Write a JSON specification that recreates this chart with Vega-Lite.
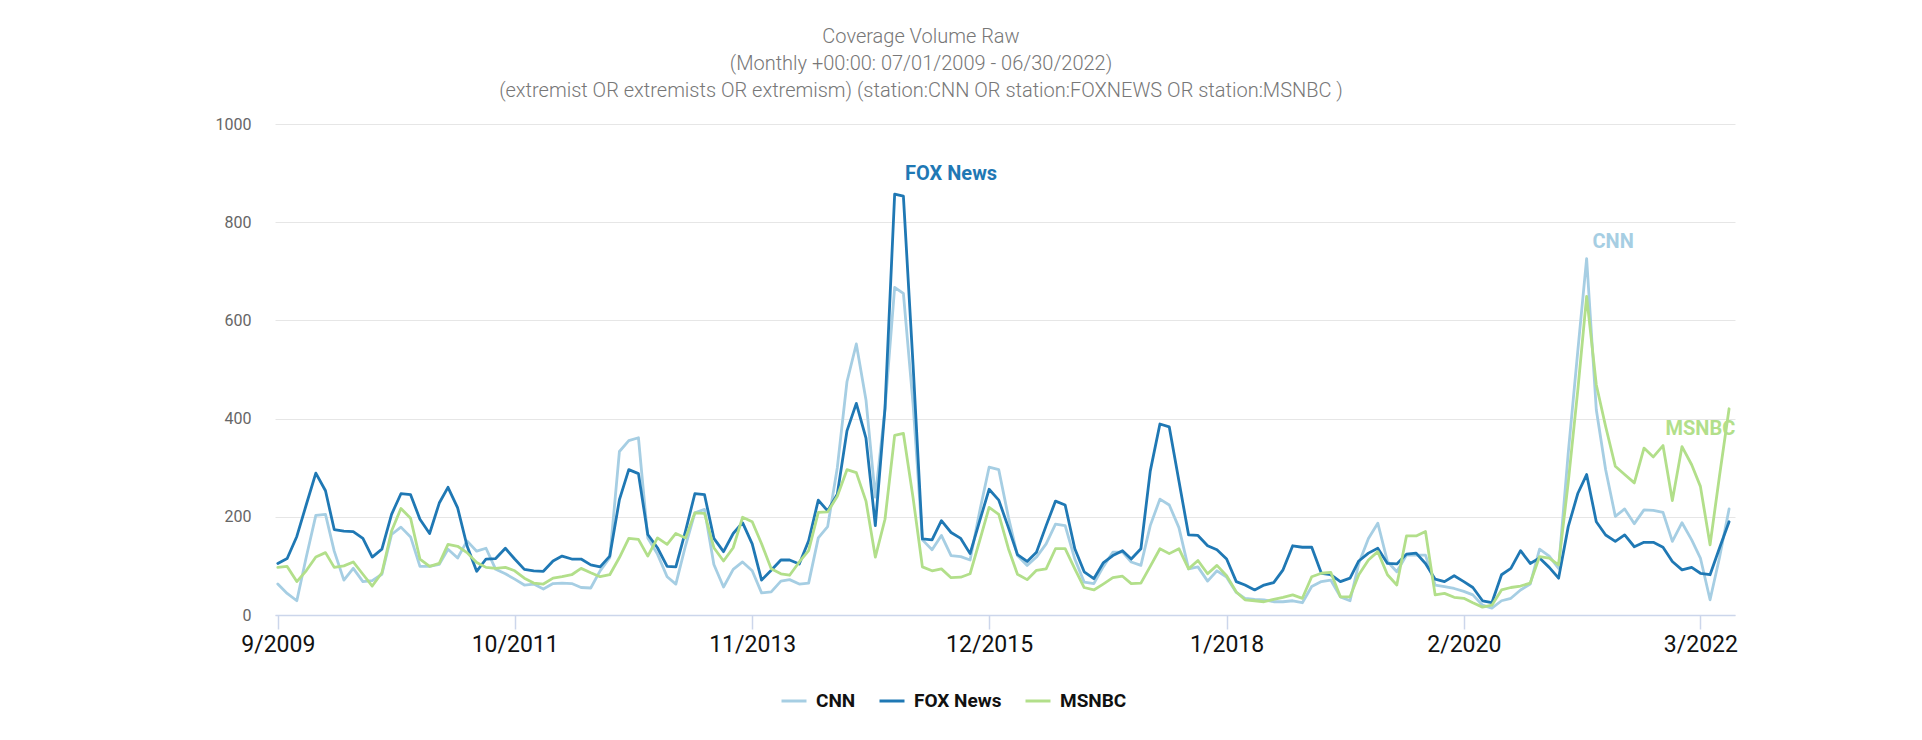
{
"$schema":"https://vega.github.io/schema/vega-lite/v6.json",
"width":1460,"height":491,
"autosize":{"type":"none"},
"padding":{"left":275,"top":124,"right":187,"bottom":125},
"background":"white",
"title":{"text":["Coverage Volume Raw","(Monthly +00:00: 07/01/2009 - 06/30/2022)","(extremist OR extremists OR extremism) (station:CNN OR station:FOXNEWS OR station:MSNBC )"],"anchor":"middle","frame":"group","dx":-84,"offset":15,"font":"Roboto","fontSize":20,"fontWeight":300,"color":"#777777","lineHeight":27},
"datasets":{
"series":[
{"date":"2009-09","network":"CNN","count":63},{"date":"2009-10","network":"CNN","count":44},{"date":"2009-11","network":"CNN","count":29},{"date":"2009-12","network":"CNN","count":117},
{"date":"2010-01","network":"CNN","count":203},{"date":"2010-02","network":"CNN","count":205},{"date":"2010-03","network":"CNN","count":130},{"date":"2010-04","network":"CNN","count":71},{"date":"2010-05","network":"CNN","count":95},{"date":"2010-06","network":"CNN","count":68},{"date":"2010-07","network":"CNN","count":70},{"date":"2010-08","network":"CNN","count":83},{"date":"2010-09","network":"CNN","count":164},{"date":"2010-10","network":"CNN","count":179},{"date":"2010-11","network":"CNN","count":159},{"date":"2010-12","network":"CNN","count":99},
{"date":"2011-01","network":"CNN","count":99},{"date":"2011-02","network":"CNN","count":103},{"date":"2011-03","network":"CNN","count":134},{"date":"2011-04","network":"CNN","count":116},{"date":"2011-05","network":"CNN","count":151},{"date":"2011-06","network":"CNN","count":130},{"date":"2011-07","network":"CNN","count":136},{"date":"2011-08","network":"CNN","count":93},{"date":"2011-09","network":"CNN","count":84},{"date":"2011-10","network":"CNN","count":73},{"date":"2011-11","network":"CNN","count":61},{"date":"2011-12","network":"CNN","count":63},
{"date":"2012-01","network":"CNN","count":53},{"date":"2012-02","network":"CNN","count":64},{"date":"2012-03","network":"CNN","count":65},{"date":"2012-04","network":"CNN","count":64},{"date":"2012-05","network":"CNN","count":56},{"date":"2012-06","network":"CNN","count":55},{"date":"2012-07","network":"CNN","count":90},{"date":"2012-08","network":"CNN","count":117},{"date":"2012-09","network":"CNN","count":333},{"date":"2012-10","network":"CNN","count":355},{"date":"2012-11","network":"CNN","count":361},{"date":"2012-12","network":"CNN","count":157},
{"date":"2013-01","network":"CNN","count":124},{"date":"2013-02","network":"CNN","count":78},{"date":"2013-03","network":"CNN","count":63},{"date":"2013-04","network":"CNN","count":141},{"date":"2013-05","network":"CNN","count":208},{"date":"2013-06","network":"CNN","count":215},{"date":"2013-07","network":"CNN","count":103},{"date":"2013-08","network":"CNN","count":57},{"date":"2013-09","network":"CNN","count":93},{"date":"2013-10","network":"CNN","count":108},{"date":"2013-11","network":"CNN","count":90},{"date":"2013-12","network":"CNN","count":45},
{"date":"2014-01","network":"CNN","count":47},{"date":"2014-02","network":"CNN","count":69},{"date":"2014-03","network":"CNN","count":72},{"date":"2014-04","network":"CNN","count":63},{"date":"2014-05","network":"CNN","count":65},{"date":"2014-06","network":"CNN","count":157},{"date":"2014-07","network":"CNN","count":180},{"date":"2014-08","network":"CNN","count":300},{"date":"2014-09","network":"CNN","count":475},{"date":"2014-10","network":"CNN","count":552},{"date":"2014-11","network":"CNN","count":438},{"date":"2014-12","network":"CNN","count":240},
{"date":"2015-01","network":"CNN","count":420},{"date":"2015-02","network":"CNN","count":667},{"date":"2015-03","network":"CNN","count":655},{"date":"2015-04","network":"CNN","count":430},{"date":"2015-05","network":"CNN","count":153},{"date":"2015-06","network":"CNN","count":133},{"date":"2015-07","network":"CNN","count":162},{"date":"2015-08","network":"CNN","count":121},{"date":"2015-09","network":"CNN","count":119},{"date":"2015-10","network":"CNN","count":112},{"date":"2015-11","network":"CNN","count":212},{"date":"2015-12","network":"CNN","count":301},
{"date":"2016-01","network":"CNN","count":296},{"date":"2016-02","network":"CNN","count":199},{"date":"2016-03","network":"CNN","count":121},{"date":"2016-04","network":"CNN","count":101},{"date":"2016-05","network":"CNN","count":118},{"date":"2016-06","network":"CNN","count":145},{"date":"2016-07","network":"CNN","count":185},{"date":"2016-08","network":"CNN","count":182},{"date":"2016-09","network":"CNN","count":114},{"date":"2016-10","network":"CNN","count":67},{"date":"2016-11","network":"CNN","count":64},{"date":"2016-12","network":"CNN","count":98},
{"date":"2017-01","network":"CNN","count":128},{"date":"2017-02","network":"CNN","count":128},{"date":"2017-03","network":"CNN","count":108},{"date":"2017-04","network":"CNN","count":101},{"date":"2017-05","network":"CNN","count":182},{"date":"2017-06","network":"CNN","count":236},{"date":"2017-07","network":"CNN","count":224},{"date":"2017-08","network":"CNN","count":178},{"date":"2017-09","network":"CNN","count":94},{"date":"2017-10","network":"CNN","count":98},{"date":"2017-11","network":"CNN","count":69},{"date":"2017-12","network":"CNN","count":90},
{"date":"2018-01","network":"CNN","count":77},{"date":"2018-02","network":"CNN","count":46},{"date":"2018-03","network":"CNN","count":34},{"date":"2018-04","network":"CNN","count":32},{"date":"2018-05","network":"CNN","count":31},{"date":"2018-06","network":"CNN","count":27},{"date":"2018-07","network":"CNN","count":27},{"date":"2018-08","network":"CNN","count":29},{"date":"2018-09","network":"CNN","count":25},{"date":"2018-10","network":"CNN","count":58},{"date":"2018-11","network":"CNN","count":68},{"date":"2018-12","network":"CNN","count":71},
{"date":"2019-01","network":"CNN","count":37},{"date":"2019-02","network":"CNN","count":29},{"date":"2019-03","network":"CNN","count":105},{"date":"2019-04","network":"CNN","count":156},{"date":"2019-05","network":"CNN","count":187},{"date":"2019-06","network":"CNN","count":109},{"date":"2019-07","network":"CNN","count":88},{"date":"2019-08","network":"CNN","count":122},{"date":"2019-09","network":"CNN","count":122},{"date":"2019-10","network":"CNN","count":122},{"date":"2019-11","network":"CNN","count":61},{"date":"2019-12","network":"CNN","count":58},
{"date":"2020-01","network":"CNN","count":54},{"date":"2020-02","network":"CNN","count":48},{"date":"2020-03","network":"CNN","count":41},{"date":"2020-04","network":"CNN","count":20},{"date":"2020-05","network":"CNN","count":14},{"date":"2020-06","network":"CNN","count":29},{"date":"2020-07","network":"CNN","count":34},{"date":"2020-08","network":"CNN","count":51},{"date":"2020-09","network":"CNN","count":63},{"date":"2020-10","network":"CNN","count":134},{"date":"2020-11","network":"CNN","count":120},{"date":"2020-12","network":"CNN","count":95},
{"date":"2021-01","network":"CNN","count":330},{"date":"2021-02","network":"CNN","count":540},{"date":"2021-03","network":"CNN","count":726},{"date":"2021-04","network":"CNN","count":418},{"date":"2021-05","network":"CNN","count":296},{"date":"2021-06","network":"CNN","count":201},{"date":"2021-07","network":"CNN","count":216},{"date":"2021-08","network":"CNN","count":186},{"date":"2021-09","network":"CNN","count":214},{"date":"2021-10","network":"CNN","count":213},{"date":"2021-11","network":"CNN","count":209},{"date":"2021-12","network":"CNN","count":150},
{"date":"2022-01","network":"CNN","count":188},{"date":"2022-02","network":"CNN","count":153},{"date":"2022-03","network":"CNN","count":116},{"date":"2022-04","network":"CNN","count":31},{"date":"2022-05","network":"CNN","count":116},{"date":"2022-06","network":"CNN","count":216},
{"date":"2009-09","network":"FOX News","count":105},{"date":"2009-10","network":"FOX News","count":115},{"date":"2009-11","network":"FOX News","count":160},{"date":"2009-12","network":"FOX News","count":224},
{"date":"2010-01","network":"FOX News","count":289},{"date":"2010-02","network":"FOX News","count":253},{"date":"2010-03","network":"FOX News","count":174},{"date":"2010-04","network":"FOX News","count":171},{"date":"2010-05","network":"FOX News","count":170},{"date":"2010-06","network":"FOX News","count":156},{"date":"2010-07","network":"FOX News","count":118},{"date":"2010-08","network":"FOX News","count":134},{"date":"2010-09","network":"FOX News","count":205},{"date":"2010-10","network":"FOX News","count":247},{"date":"2010-11","network":"FOX News","count":245},{"date":"2010-12","network":"FOX News","count":195},
{"date":"2011-01","network":"FOX News","count":166},{"date":"2011-02","network":"FOX News","count":228},{"date":"2011-03","network":"FOX News","count":260},{"date":"2011-04","network":"FOX News","count":218},{"date":"2011-05","network":"FOX News","count":141},{"date":"2011-06","network":"FOX News","count":89},{"date":"2011-07","network":"FOX News","count":114},{"date":"2011-08","network":"FOX News","count":115},{"date":"2011-09","network":"FOX News","count":136},{"date":"2011-10","network":"FOX News","count":114},{"date":"2011-11","network":"FOX News","count":93},{"date":"2011-12","network":"FOX News","count":90},
{"date":"2012-01","network":"FOX News","count":89},{"date":"2012-02","network":"FOX News","count":110},{"date":"2012-03","network":"FOX News","count":120},{"date":"2012-04","network":"FOX News","count":114},{"date":"2012-05","network":"FOX News","count":114},{"date":"2012-06","network":"FOX News","count":102},{"date":"2012-07","network":"FOX News","count":98},{"date":"2012-08","network":"FOX News","count":120},{"date":"2012-09","network":"FOX News","count":235},{"date":"2012-10","network":"FOX News","count":296},{"date":"2012-11","network":"FOX News","count":288},{"date":"2012-12","network":"FOX News","count":164},
{"date":"2013-01","network":"FOX News","count":137},{"date":"2013-02","network":"FOX News","count":99},{"date":"2013-03","network":"FOX News","count":98},{"date":"2013-04","network":"FOX News","count":171},{"date":"2013-05","network":"FOX News","count":247},{"date":"2013-06","network":"FOX News","count":245},{"date":"2013-07","network":"FOX News","count":156},{"date":"2013-08","network":"FOX News","count":129},{"date":"2013-09","network":"FOX News","count":166},{"date":"2013-10","network":"FOX News","count":188},{"date":"2013-11","network":"FOX News","count":145},{"date":"2013-12","network":"FOX News","count":71},
{"date":"2014-01","network":"FOX News","count":91},{"date":"2014-02","network":"FOX News","count":112},{"date":"2014-03","network":"FOX News","count":112},{"date":"2014-04","network":"FOX News","count":104},{"date":"2014-05","network":"FOX News","count":151},{"date":"2014-06","network":"FOX News","count":234},{"date":"2014-07","network":"FOX News","count":212},{"date":"2014-08","network":"FOX News","count":246},{"date":"2014-09","network":"FOX News","count":375},{"date":"2014-10","network":"FOX News","count":431},{"date":"2014-11","network":"FOX News","count":360},{"date":"2014-12","network":"FOX News","count":182},
{"date":"2015-01","network":"FOX News","count":421},{"date":"2015-02","network":"FOX News","count":857},{"date":"2015-03","network":"FOX News","count":853},{"date":"2015-04","network":"FOX News","count":510},{"date":"2015-05","network":"FOX News","count":155},{"date":"2015-06","network":"FOX News","count":153},{"date":"2015-07","network":"FOX News","count":192},{"date":"2015-08","network":"FOX News","count":168},{"date":"2015-09","network":"FOX News","count":156},{"date":"2015-10","network":"FOX News","count":125},{"date":"2015-11","network":"FOX News","count":192},{"date":"2015-12","network":"FOX News","count":256},
{"date":"2016-01","network":"FOX News","count":234},{"date":"2016-02","network":"FOX News","count":178},{"date":"2016-03","network":"FOX News","count":123},{"date":"2016-04","network":"FOX News","count":109},{"date":"2016-05","network":"FOX News","count":128},{"date":"2016-06","network":"FOX News","count":182},{"date":"2016-07","network":"FOX News","count":232},{"date":"2016-08","network":"FOX News","count":224},{"date":"2016-09","network":"FOX News","count":135},{"date":"2016-10","network":"FOX News","count":88},{"date":"2016-11","network":"FOX News","count":74},{"date":"2016-12","network":"FOX News","count":106},
{"date":"2017-01","network":"FOX News","count":121},{"date":"2017-02","network":"FOX News","count":131},{"date":"2017-03","network":"FOX News","count":114},{"date":"2017-04","network":"FOX News","count":135},{"date":"2017-05","network":"FOX News","count":293},{"date":"2017-06","network":"FOX News","count":389},{"date":"2017-07","network":"FOX News","count":383},{"date":"2017-08","network":"FOX News","count":273},{"date":"2017-09","network":"FOX News","count":163},{"date":"2017-10","network":"FOX News","count":162},{"date":"2017-11","network":"FOX News","count":141},{"date":"2017-12","network":"FOX News","count":133},
{"date":"2018-01","network":"FOX News","count":114},{"date":"2018-02","network":"FOX News","count":68},{"date":"2018-03","network":"FOX News","count":61},{"date":"2018-04","network":"FOX News","count":51},{"date":"2018-05","network":"FOX News","count":61},{"date":"2018-06","network":"FOX News","count":66},{"date":"2018-07","network":"FOX News","count":92},{"date":"2018-08","network":"FOX News","count":141},{"date":"2018-09","network":"FOX News","count":138},{"date":"2018-10","network":"FOX News","count":138},{"date":"2018-11","network":"FOX News","count":85},{"date":"2018-12","network":"FOX News","count":82},
{"date":"2019-01","network":"FOX News","count":68},{"date":"2019-02","network":"FOX News","count":75},{"date":"2019-03","network":"FOX News","count":110},{"date":"2019-04","network":"FOX News","count":126},{"date":"2019-05","network":"FOX News","count":136},{"date":"2019-06","network":"FOX News","count":105},{"date":"2019-07","network":"FOX News","count":104},{"date":"2019-08","network":"FOX News","count":124},{"date":"2019-09","network":"FOX News","count":126},{"date":"2019-10","network":"FOX News","count":105},{"date":"2019-11","network":"FOX News","count":73},{"date":"2019-12","network":"FOX News","count":68},
{"date":"2020-01","network":"FOX News","count":80},{"date":"2020-02","network":"FOX News","count":68},{"date":"2020-03","network":"FOX News","count":56},{"date":"2020-04","network":"FOX News","count":29},{"date":"2020-05","network":"FOX News","count":25},{"date":"2020-06","network":"FOX News","count":82},{"date":"2020-07","network":"FOX News","count":95},{"date":"2020-08","network":"FOX News","count":131},{"date":"2020-09","network":"FOX News","count":105},{"date":"2020-10","network":"FOX News","count":116},{"date":"2020-11","network":"FOX News","count":97},{"date":"2020-12","network":"FOX News","count":75},
{"date":"2021-01","network":"FOX News","count":180},{"date":"2021-02","network":"FOX News","count":248},{"date":"2021-03","network":"FOX News","count":286},{"date":"2021-04","network":"FOX News","count":190},{"date":"2021-05","network":"FOX News","count":163},{"date":"2021-06","network":"FOX News","count":150},{"date":"2021-07","network":"FOX News","count":163},{"date":"2021-08","network":"FOX News","count":139},{"date":"2021-09","network":"FOX News","count":148},{"date":"2021-10","network":"FOX News","count":148},{"date":"2021-11","network":"FOX News","count":138},{"date":"2021-12","network":"FOX News","count":109},
{"date":"2022-01","network":"FOX News","count":92},{"date":"2022-02","network":"FOX News","count":97},{"date":"2022-03","network":"FOX News","count":85},{"date":"2022-04","network":"FOX News","count":82},{"date":"2022-05","network":"FOX News","count":136},{"date":"2022-06","network":"FOX News","count":190},
{"date":"2009-09","network":"MSNBC","count":97},{"date":"2009-10","network":"MSNBC","count":99},{"date":"2009-11","network":"MSNBC","count":68},{"date":"2009-12","network":"MSNBC","count":90},
{"date":"2010-01","network":"MSNBC","count":118},{"date":"2010-02","network":"MSNBC","count":127},{"date":"2010-03","network":"MSNBC","count":97},{"date":"2010-04","network":"MSNBC","count":100},{"date":"2010-05","network":"MSNBC","count":108},{"date":"2010-06","network":"MSNBC","count":83},{"date":"2010-07","network":"MSNBC","count":59},{"date":"2010-08","network":"MSNBC","count":86},{"date":"2010-09","network":"MSNBC","count":171},{"date":"2010-10","network":"MSNBC","count":217},{"date":"2010-11","network":"MSNBC","count":197},{"date":"2010-12","network":"MSNBC","count":114},
{"date":"2011-01","network":"MSNBC","count":99},{"date":"2011-02","network":"MSNBC","count":105},{"date":"2011-03","network":"MSNBC","count":144},{"date":"2011-04","network":"MSNBC","count":140},{"date":"2011-05","network":"MSNBC","count":127},{"date":"2011-06","network":"MSNBC","count":107},{"date":"2011-07","network":"MSNBC","count":97},{"date":"2011-08","network":"MSNBC","count":95},{"date":"2011-09","network":"MSNBC","count":97},{"date":"2011-10","network":"MSNBC","count":90},{"date":"2011-11","network":"MSNBC","count":75},{"date":"2011-12","network":"MSNBC","count":65},
{"date":"2012-01","network":"MSNBC","count":63},{"date":"2012-02","network":"MSNBC","count":75},{"date":"2012-03","network":"MSNBC","count":78},{"date":"2012-04","network":"MSNBC","count":82},{"date":"2012-05","network":"MSNBC","count":95},{"date":"2012-06","network":"MSNBC","count":86},{"date":"2012-07","network":"MSNBC","count":78},{"date":"2012-08","network":"MSNBC","count":82},{"date":"2012-09","network":"MSNBC","count":117},{"date":"2012-10","network":"MSNBC","count":156},{"date":"2012-11","network":"MSNBC","count":154},{"date":"2012-12","network":"MSNBC","count":120},
{"date":"2013-01","network":"MSNBC","count":157},{"date":"2013-02","network":"MSNBC","count":144},{"date":"2013-03","network":"MSNBC","count":166},{"date":"2013-04","network":"MSNBC","count":157},{"date":"2013-05","network":"MSNBC","count":208},{"date":"2013-06","network":"MSNBC","count":207},{"date":"2013-07","network":"MSNBC","count":137},{"date":"2013-08","network":"MSNBC","count":110},{"date":"2013-09","network":"MSNBC","count":137},{"date":"2013-10","network":"MSNBC","count":199},{"date":"2013-11","network":"MSNBC","count":190},{"date":"2013-12","network":"MSNBC","count":145},
{"date":"2014-01","network":"MSNBC","count":94},{"date":"2014-02","network":"MSNBC","count":84},{"date":"2014-03","network":"MSNBC","count":81},{"date":"2014-04","network":"MSNBC","count":108},{"date":"2014-05","network":"MSNBC","count":131},{"date":"2014-06","network":"MSNBC","count":209},{"date":"2014-07","network":"MSNBC","count":210},{"date":"2014-08","network":"MSNBC","count":242},{"date":"2014-09","network":"MSNBC","count":296},{"date":"2014-10","network":"MSNBC","count":290},{"date":"2014-11","network":"MSNBC","count":232},{"date":"2014-12","network":"MSNBC","count":118},
{"date":"2015-01","network":"MSNBC","count":195},{"date":"2015-02","network":"MSNBC","count":366},{"date":"2015-03","network":"MSNBC","count":370},{"date":"2015-04","network":"MSNBC","count":239},{"date":"2015-05","network":"MSNBC","count":98},{"date":"2015-06","network":"MSNBC","count":90},{"date":"2015-07","network":"MSNBC","count":94},{"date":"2015-08","network":"MSNBC","count":76},{"date":"2015-09","network":"MSNBC","count":77},{"date":"2015-10","network":"MSNBC","count":84},{"date":"2015-11","network":"MSNBC","count":152},{"date":"2015-12","network":"MSNBC","count":219},
{"date":"2016-01","network":"MSNBC","count":205},{"date":"2016-02","network":"MSNBC","count":135},{"date":"2016-03","network":"MSNBC","count":83},{"date":"2016-04","network":"MSNBC","count":72},{"date":"2016-05","network":"MSNBC","count":91},{"date":"2016-06","network":"MSNBC","count":94},{"date":"2016-07","network":"MSNBC","count":135},{"date":"2016-08","network":"MSNBC","count":135},{"date":"2016-09","network":"MSNBC","count":94},{"date":"2016-10","network":"MSNBC","count":56},{"date":"2016-11","network":"MSNBC","count":51},{"date":"2016-12","network":"MSNBC","count":63},
{"date":"2017-01","network":"MSNBC","count":76},{"date":"2017-02","network":"MSNBC","count":79},{"date":"2017-03","network":"MSNBC","count":64},{"date":"2017-04","network":"MSNBC","count":65},{"date":"2017-05","network":"MSNBC","count":99},{"date":"2017-06","network":"MSNBC","count":135},{"date":"2017-07","network":"MSNBC","count":125},{"date":"2017-08","network":"MSNBC","count":135},{"date":"2017-09","network":"MSNBC","count":94},{"date":"2017-10","network":"MSNBC","count":111},{"date":"2017-11","network":"MSNBC","count":84},{"date":"2017-12","network":"MSNBC","count":101},
{"date":"2018-01","network":"MSNBC","count":80},{"date":"2018-02","network":"MSNBC","count":47},{"date":"2018-03","network":"MSNBC","count":31},{"date":"2018-04","network":"MSNBC","count":29},{"date":"2018-05","network":"MSNBC","count":27},{"date":"2018-06","network":"MSNBC","count":32},{"date":"2018-07","network":"MSNBC","count":36},{"date":"2018-08","network":"MSNBC","count":41},{"date":"2018-09","network":"MSNBC","count":34},{"date":"2018-10","network":"MSNBC","count":78},{"date":"2018-11","network":"MSNBC","count":85},{"date":"2018-12","network":"MSNBC","count":87},
{"date":"2019-01","network":"MSNBC","count":37},{"date":"2019-02","network":"MSNBC","count":37},{"date":"2019-03","network":"MSNBC","count":82},{"date":"2019-04","network":"MSNBC","count":112},{"date":"2019-05","network":"MSNBC","count":129},{"date":"2019-06","network":"MSNBC","count":82},{"date":"2019-07","network":"MSNBC","count":61},{"date":"2019-08","network":"MSNBC","count":161},{"date":"2019-09","network":"MSNBC","count":161},{"date":"2019-10","network":"MSNBC","count":170},{"date":"2019-11","network":"MSNBC","count":41},{"date":"2019-12","network":"MSNBC","count":44},
{"date":"2020-01","network":"MSNBC","count":36},{"date":"2020-02","network":"MSNBC","count":34},{"date":"2020-03","network":"MSNBC","count":25},{"date":"2020-04","network":"MSNBC","count":16},{"date":"2020-05","network":"MSNBC","count":20},{"date":"2020-06","network":"MSNBC","count":51},{"date":"2020-07","network":"MSNBC","count":56},{"date":"2020-08","network":"MSNBC","count":59},{"date":"2020-09","network":"MSNBC","count":65},{"date":"2020-10","network":"MSNBC","count":119},{"date":"2020-11","network":"MSNBC","count":116},{"date":"2020-12","network":"MSNBC","count":102},
{"date":"2021-01","network":"MSNBC","count":270},{"date":"2021-02","network":"MSNBC","count":460},{"date":"2021-03","network":"MSNBC","count":649},{"date":"2021-04","network":"MSNBC","count":469},{"date":"2021-05","network":"MSNBC","count":384},{"date":"2021-06","network":"MSNBC","count":303},{"date":"2021-07","network":"MSNBC","count":286},{"date":"2021-08","network":"MSNBC","count":269},{"date":"2021-09","network":"MSNBC","count":340},{"date":"2021-10","network":"MSNBC","count":322},{"date":"2021-11","network":"MSNBC","count":345},{"date":"2021-12","network":"MSNBC","count":233},
{"date":"2022-01","network":"MSNBC","count":343},{"date":"2022-02","network":"MSNBC","count":306},{"date":"2022-03","network":"MSNBC","count":262},{"date":"2022-04","network":"MSNBC","count":143},{"date":"2022-05","network":"MSNBC","count":282},{"date":"2022-06","network":"MSNBC","count":420}
],
"labels":[
{"date":"2015-08-01","count":898,"label":"FOX News","network":"FOX News"},
{"date":"2021-05-25","count":760,"label":"CNN","network":"CNN"},
{"date":"2022-03-01","count":379,"label":"MSNBC","network":"MSNBC"}
]
},
"layer":[
{"data":{"name":"series"},
"mark":{"type":"line","strokeWidth":2.8,"strokeJoin":"round","strokeCap":"round"},
"encoding":{
"x":{"field":"date","type":"temporal","title":null,
"scale":{"type":"utc","domain":[{"year":2009,"month":8,"date":23,"utc":true},{"year":2022,"month":6,"date":20,"utc":true}]},
"axis":{"values":[{"year":2009,"month":9,"date":1,"utc":true},{"year":2011,"month":10,"date":1,"utc":true},{"year":2013,"month":11,"date":1,"utc":true},{"year":2015,"month":12,"date":1,"utc":true},{"year":2018,"month":1,"date":1,"utc":true},{"year":2020,"month":2,"date":1,"utc":true},{"year":2022,"month":3,"date":1,"utc":true}],
"labelExpr":"utcFormat(datum.value, '%-m/%Y')","grid":false,"domainColor":"#ccd6eb","domainWidth":1.5,"tickColor":"#ccd6eb","tickWidth":1.5,"tickSize":14,"labelPadding":4,"labelFont":"Roboto","labelFontSize":23,"labelColor":"#111111","labelFlush":false,"labelOverlap":false}},
"y":{"field":"count","type":"quantitative",
"scale":{"domain":[0,1000],"nice":false},
"axis":{"values":[0,200,400,600,800,1000],"format":"d","title":"15s Block Count","grid":true,"gridColor":"#e6e6e6","domain":false,"ticks":false,"tickSize":0,"labelPadding":24,"labelFont":"Roboto","labelFontSize":16,"labelColor":"#666666","titleFont":"Roboto","titleFontSize":18,"titleFontWeight":"normal","titleColor":"#333333","titleAngle":-90,"titleX":-83,"titleY":245.5,"titleAlign":"center","titleBaseline":"middle"}},
"color":{"field":"network","type":"nominal",
"scale":{"domain":["CNN","FOX News","MSNBC"],"range":["#a6cee3","#1f78b4","#b2df8a"]},
"legend":{"title":null,"orient":"none","legendX":505,"legendY":563,"direction":"horizontal","symbolType":"stroke","symbolSize":625,"symbolStrokeWidth":3,"labelFont":"Roboto","labelFontSize":19,"labelFontWeight":"bold","labelColor":"#111111","labelOffset":8,"columnPadding":17,"padding":0}}
}},
{"data":{"name":"labels"},
"mark":{"type":"text","font":"Roboto","fontSize":20,"fontWeight":"bold","align":"center","baseline":"middle"},
"encoding":{
"x":{"field":"date","type":"temporal","title":null},
"y":{"field":"count","type":"quantitative","title":null},
"text":{"field":"label","type":"nominal"},
"fill":{"field":"network","type":"nominal","scale":{"domain":["CNN","FOX News","MSNBC"],"range":["#a6cee3","#1f78b4","#b2df8a"]},"legend":null}
}}
],
"config":{"view":{"stroke":null}}
}
